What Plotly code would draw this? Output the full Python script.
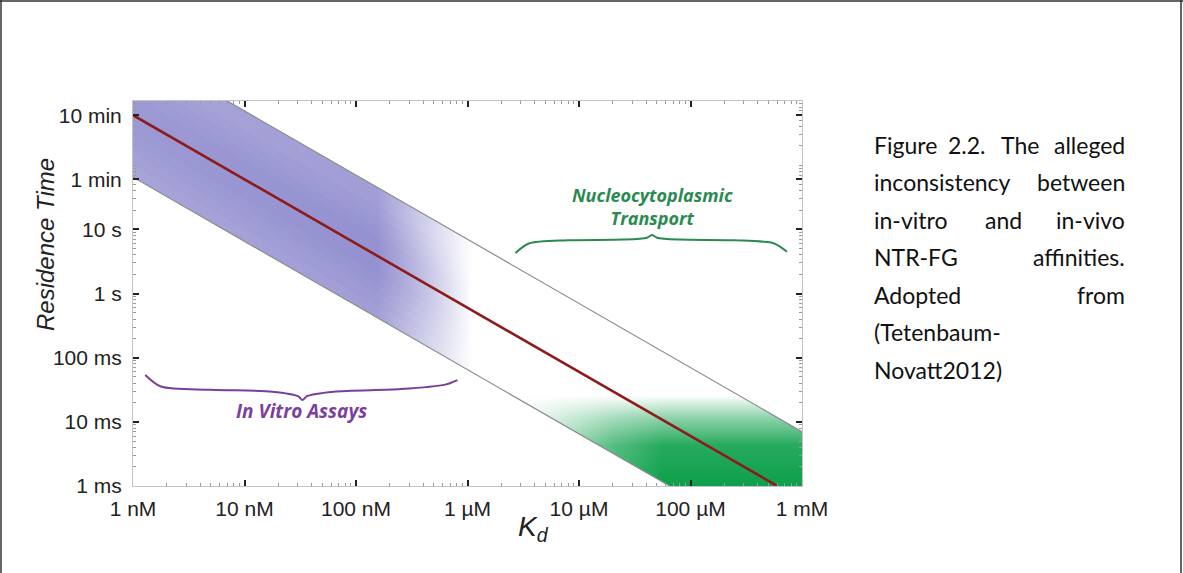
import plotly.graph_objects as go

# ---------------- data ----------------
kd_ticks = [1e-9, 1e-8, 1e-7, 1e-6, 1e-5, 1e-4, 1e-3]
kd_labels = ["1 nM", "10 nM", "100 nM", "1 µM", "10 µM", "100 µM", "1 mM"]
t_ticks = [1e-3, 1e-2, 1e-1, 1, 10, 60, 600]
t_labels = ["1 ms", "10 ms", "100 ms", "1 s", "10 s", "1 min", "10 min"]

fit_kd = [1e-9, 6e-4]
fit_t = [600, 1e-3]
upper_kd = [7e-9, 1e-3]
upper_t = [1000, 7e-3]
lower_kd = [1e-9, 6.5e-5]
lower_t = [65, 1e-3]

# shaded regions (outline)
vitro_kd = [1e-9, 1.1e-6, 1.1e-6, 1e-9]
vitro_t = [7000, 6.4, 0.059, 65]
# darker core around the fit line: (upper t at 1 nM, lower t at 1 nM, upper t at 1.1 µM, lower t at 1.1 µM)
vitro_core_t = [
    (3500, 100, 3.2, 0.09),
    (2400, 150, 2.2, 0.14),
    (1700, 210, 1.55, 0.19),
    (1200, 300, 1.1, 0.27),
]
vivo_kd = [2.5e-6, 2.7e-4, 1e-3, 1e-3, 6.5e-5]
vivo_t = [0.0257, 0.0257, 7e-3, 1e-3, 1e-3]

# brace outlines (log10 Kd, log10 t)
brace_vitro_x = [-8.89, -8.75, -8.3, -7.75, -7.52, -7.48, -7.44, -7.2, -6.6, -6.2, -6.09]
brace_vitro_y = [-1.27, -1.45, -1.50, -1.53, -1.60, -1.66, -1.60, -1.53, -1.49, -1.42, -1.35]
brace_vivo_x = [-5.57, -5.45, -5.1, -4.6, -4.39, -4.345, -4.30, -4.1, -3.6, -3.25, -3.135]
brace_vivo_y = [0.63, 0.78, 0.83, 0.84, 0.87, 0.91, 0.87, 0.84, 0.83, 0.78, 0.65]

caption_lines = [
    ["Figure", "2.2.", "The", "alleged"],
    ["inconsistency", "between"],
    ["in-vitro", "and", "in-vivo"],
    ["NTR-FG", "affinities."],
    ["Adopted", "from"],
    ["(Tetenbaum-"],
    ["Novatt2012)"],
]

# ---------------- layout geometry ----------------
WIDTH, HEIGHT = 1183, 573
L, R, T, B = 133, 802, 101, 486
PW, PH = R - L, B - T


def px(x):
    return (x - L) / PW


def py(y):
    return (B - y) / PH


fig = go.Figure()

PURPLE = "rgba(112,108,192,{a})"
fig.add_trace(go.Scatter(
    x=vitro_kd, y=vitro_t, mode="none", fill="toself",
    fillgradient=dict(type="horizontal", colorscale=[
        [0, PURPLE.format(a=0.62)], [0.72, PURPLE.format(a=0.66)],
        [0.88, PURPLE.format(a=0.28)], [1, PURPLE.format(a=0)]]),
    hoverinfo="skip", showlegend=False))
for (u0, l0, u1, l1) in vitro_core_t:
    fig.add_trace(go.Scatter(
        x=[vitro_kd[0], vitro_kd[1], vitro_kd[2], vitro_kd[3]], y=[u0, u1, l1, l0],
        mode="none", fill="toself",
        fillgradient=dict(type="horizontal", colorscale=[
            [0, PURPLE.format(a=0.05)], [0.72, PURPLE.format(a=0.07)],
            [0.88, PURPLE.format(a=0.03)], [1, PURPLE.format(a=0)]]),
        hoverinfo="skip", showlegend=False))

GREEN = "rgba(0,155,65,{a})"
fig.add_trace(go.Scatter(
    x=vivo_kd, y=vivo_t, mode="none", fill="toself",
    fillgradient=dict(type="vertical", colorscale=[
        [0, GREEN.format(a=0.95)], [0.45, GREEN.format(a=0.85)],
        [0.75, GREEN.format(a=0.45)], [1, GREEN.format(a=0)]]),
    hoverinfo="skip", showlegend=False))
fig.add_trace(go.Scatter(
    x=vivo_kd, y=vivo_t, mode="none", fill="toself",
    fillgradient=dict(type="horizontal", colorscale=[
        [0, "rgba(255,255,255,1)"], [0.15, "rgba(255,255,255,0.65)"],
        [0.35, "rgba(255,255,255,0.22)"], [0.52, "rgba(255,255,255,0)"],
        [1, "rgba(255,255,255,0)"]]),
    hoverinfo="skip", showlegend=False))

for xs, ys in ((upper_kd, upper_t), (lower_kd, lower_t)):
    fig.add_trace(go.Scatter(x=xs, y=ys, mode="lines",
                             line=dict(color="#8c8c8c", width=1.2),
                             hoverinfo="skip", showlegend=False))
fig.add_trace(go.Scatter(x=fit_kd, y=fit_t, mode="lines",
                         line=dict(color="#8e1b1b", width=2.6),
                         hoverinfo="skip", showlegend=False))

fig.add_trace(go.Scatter(x=[10 ** v for v in brace_vitro_x], y=[10 ** v for v in brace_vitro_y],
                         mode="lines", line=dict(color="#7a3f9c", width=2, shape="spline", smoothing=0.8),
                         hoverinfo="skip", showlegend=False))
fig.add_trace(go.Scatter(x=[10 ** v for v in brace_vivo_x], y=[10 ** v for v in brace_vivo_y],
                         mode="lines", line=dict(color="#2b8a52", width=2, shape="spline", smoothing=0.8),
                         hoverinfo="skip", showlegend=False))

# minor ticks
x_minor = [m * 10 ** e for e in range(-9, -3) for m in range(2, 10)]
y_minor = [m * 10 ** e for e in range(-3, 3) for m in range(1, 10) if not (m == 1 and e <= 1)]
y_minor = [v for v in y_minor if v not in (60, 600)]

axis_common = dict(type="log", showgrid=False, zeroline=False, showline=True,
                   linecolor="#c4c4c4", linewidth=1, mirror="allticks",
                   ticks="inside", ticklen=6, tickwidth=2, tickcolor="#222",
                   tickfont=dict(family="Liberation Sans, Arial", size=21, color="#222"))

fig.update_xaxes(range=[-9, -3], tickvals=kd_ticks, ticktext=kd_labels,
                 ticklabelstandoff=4,
                 minor=dict(tickvals=x_minor, ticks="inside", ticklen=3, tickwidth=1, tickcolor="#999"),
                 **axis_common)
fig.update_yaxes(range=[-3, 3], tickvals=t_ticks, ticktext=t_labels,
                 ticklabelstandoff=6,
                 minor=dict(tickvals=y_minor, ticks="inside", ticklen=3, tickwidth=1, tickcolor="#999"),
                 **axis_common)

ann = []
ann.append(dict(text="<i>Residence Time</i>", x=px(45), y=py(245), xref="paper", yref="paper",
                xanchor="center", yanchor="middle", textangle=-90, showarrow=False,
                font=dict(family="Liberation Sans, Arial", size=24, color="#222")))
ann.append(dict(text="<i>K<sub>d</sub></i>", x=px(516), y=py(509), xref="paper", yref="paper",
                xanchor="left", yanchor="top",
                showarrow=False, font=dict(family="Liberation Sans, Arial", size=28, color="#222")))
ann.append(dict(text="<i><b>In Vitro Assays</b></i>", x=-7.49, y=-1.83, xref="x", yref="y",
                xanchor="center", yanchor="middle",
                showarrow=False, font=dict(family="Open Sans", size=19, color="#7b3f9e")))
ann.append(dict(text="<i><b>Nucleocytoplasmic<br>Transport</b></i>", x=-4.345, y=1.36, xref="x", yref="y",
                xanchor="center", yanchor="middle",
                showarrow=False, font=dict(family="Open Sans", size=18, color="#2a8a50")))

# caption, justified like the source
line_y = [145, 182, 220, 257, 295, 332, 370]
word_pos = [
    [(872, "left"), (967, "center"), (1020, "center"), (1127, "right")],
    [(872, "left"), (1127, "right")],
    [(872, "left"), (1003, "center"), (1127, "right")],
    [(872, "left"), (1127, "right")],
    [(872, "left"), (1127, "right")],
    [(872, "left")],
    [(872, "left")],
]
for words, yy, pos in zip(caption_lines, line_y, word_pos):
    for w, (xx, anc) in zip(words, pos):
        ann.append(dict(text=w, x=px(xx), y=py(yy), xref="paper", yref="paper",
                        xanchor=anc, yanchor="middle", showarrow=False,
                        font=dict(family="Lato", size=23, color="#111")))

shapes = [
    dict(type="line", xref="paper", yref="paper", x0=px(1), x1=px(1), y0=py(0), y1=py(573),
         line=dict(color="#333", width=1.5)),
    dict(type="line", xref="paper", yref="paper", x0=px(0), x1=px(1183), y0=py(1), y1=py(1),
         line=dict(color="#333", width=1.5)),
    dict(type="line", xref="paper", yref="paper", x0=px(1181), x1=px(1181), y0=py(0), y1=py(573),
         line=dict(color="#333", width=1.5)),
]

fig.update_layout(width=WIDTH, height=HEIGHT, margin=dict(l=L, r=WIDTH - R, t=T, b=HEIGHT - B),
                  paper_bgcolor="white", plot_bgcolor="white",
                  annotations=ann, shapes=shapes, showlegend=False)

fig.write_html("out.html")
